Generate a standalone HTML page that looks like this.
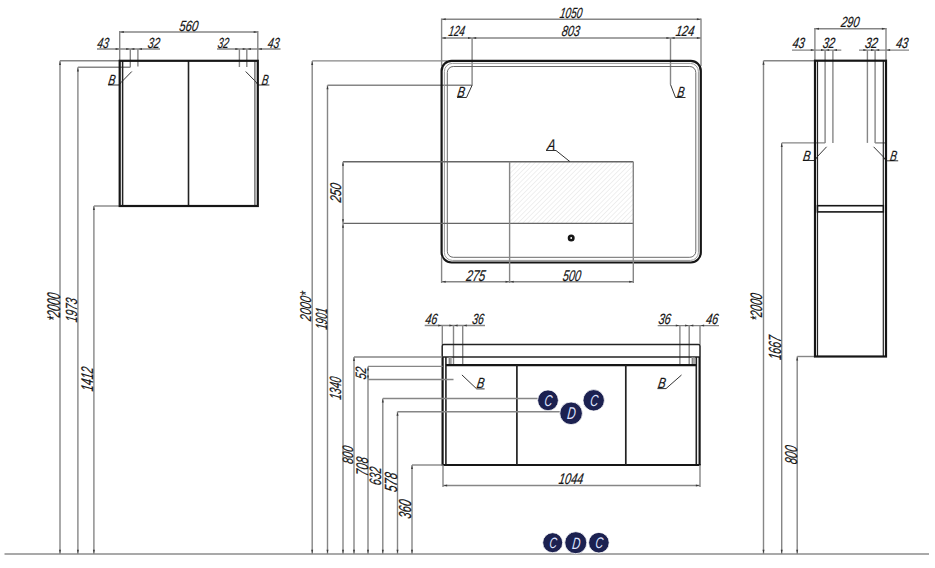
<!DOCTYPE html>
<html><head><meta charset="utf-8"><style>
html,body{margin:0;padding:0;background:#fff;width:935px;height:568px;overflow:hidden}
svg{display:block}
text{font-family:"Liberation Sans",sans-serif;font-style:italic;stroke:#151515;stroke-width:0.2px}
</style></head><body>
<svg width="935" height="568" viewBox="0 0 935 568">
<line x1="4.5" y1="554" x2="929" y2="554" stroke="#8c8c8c" stroke-width="1.6"/>
<line x1="119.7" y1="32" x2="257.8" y2="32" stroke="#868686" stroke-width="1.4"/>
<line x1="119.7" y1="31" x2="119.7" y2="60.8" stroke="#868686" stroke-width="1.4"/>
<line x1="257.8" y1="31" x2="257.8" y2="60.8" stroke="#868686" stroke-width="1.4"/>
<text transform="translate(178.7,30.5) skewX(-9)" x="0" y="0" font-size="14.71" textLength="19.0" lengthAdjust="spacingAndGlyphs" fill="#151515">560</text>
<line x1="97" y1="49" x2="160" y2="49" stroke="#868686" stroke-width="1.4"/>
<line x1="217" y1="49" x2="280.5" y2="49" stroke="#868686" stroke-width="1.4"/>
<text transform="translate(96.7,47.5) skewX(-9)" x="0" y="0" font-size="14.71" textLength="11.5" lengthAdjust="spacingAndGlyphs" fill="#151515">43</text>
<text transform="translate(147.2,47.5) skewX(-9)" x="0" y="0" font-size="14.71" textLength="12.0" lengthAdjust="spacingAndGlyphs" fill="#151515">32</text>
<text transform="translate(217.2,47.5) skewX(-9)" x="0" y="0" font-size="14.71" textLength="11.0" lengthAdjust="spacingAndGlyphs" fill="#151515">32</text>
<text transform="translate(267.2,47.5) skewX(-9)" x="0" y="0" font-size="14.71" textLength="11.5" lengthAdjust="spacingAndGlyphs" fill="#151515">43</text>
<line x1="130.3" y1="49" x2="130.3" y2="67.3" stroke="#868686" stroke-width="1.4"/>
<line x1="137.9" y1="49" x2="137.9" y2="66.6" stroke="#868686" stroke-width="1.4"/>
<line x1="239.4" y1="49" x2="239.4" y2="67" stroke="#868686" stroke-width="1.4"/>
<line x1="246.8" y1="49" x2="246.8" y2="67" stroke="#868686" stroke-width="1.4"/>
<line x1="60" y1="60.8" x2="119.7" y2="60.8" stroke="#868686" stroke-width="1.4"/>
<line x1="77.9" y1="67.3" x2="130.3" y2="67.3" stroke="#868686" stroke-width="1.4"/>
<line x1="93.9" y1="206" x2="119.7" y2="206" stroke="#868686" stroke-width="1.4"/>
<line x1="60" y1="60.8" x2="60" y2="554" stroke="#868686" stroke-width="1.4"/>
<line x1="77.9" y1="67.3" x2="77.9" y2="554" stroke="#868686" stroke-width="1.4"/>
<line x1="93.9" y1="206" x2="93.9" y2="554" stroke="#868686" stroke-width="1.4"/>
<text transform="translate(60,321.8) rotate(-90) skewX(-9)" x="0" y="0" font-size="18.38" textLength="28.0" lengthAdjust="spacingAndGlyphs" fill="#151515">*2000</text>
<text transform="translate(76.5,322.8) rotate(-90) skewX(-9)" x="0" y="0" font-size="16.18" textLength="24.0" lengthAdjust="spacingAndGlyphs" fill="#151515">1973</text>
<text transform="translate(93,391.8) rotate(-90) skewX(-9)" x="0" y="0" font-size="16.91" textLength="24.0" lengthAdjust="spacingAndGlyphs" fill="#151515">1412</text>
<polyline points="131.8,71.5 121,82.5 119,85 108,85" fill="none" stroke="#333" stroke-width="1.0"/>
<text transform="translate(107.7,85) skewX(-9)" x="0" y="0" font-size="14.71" textLength="7.0" lengthAdjust="spacingAndGlyphs" fill="#151515">B</text>
<polyline points="245.7,71.5 256,82 258,85 269.4,85" fill="none" stroke="#333" stroke-width="1.0"/>
<text transform="translate(261.2,85) skewX(-9)" x="0" y="0" font-size="14.71" textLength="6.5" lengthAdjust="spacingAndGlyphs" fill="#151515">B</text>
<line x1="122.6" y1="60.8" x2="122.6" y2="206" stroke="#222" stroke-width="1.5"/>
<line x1="254.9" y1="60.8" x2="254.9" y2="206" stroke="#555" stroke-width="1.2"/>
<line x1="188.5" y1="60.8" x2="188.5" y2="206" stroke="#222" stroke-width="1.6"/>
<rect x="119.7" y="60.8" width="138.1" height="145.2" fill="none" stroke="#161616" stroke-width="2.2"/>
<line x1="441.6" y1="19.2" x2="701" y2="19.2" stroke="#868686" stroke-width="1.4"/>
<line x1="441.6" y1="18.5" x2="441.6" y2="66" stroke="#868686" stroke-width="1.4"/>
<line x1="701" y1="18.5" x2="701" y2="66" stroke="#868686" stroke-width="1.4"/>
<text transform="translate(559.2,17.5) skewX(-9)" x="0" y="0" font-size="14.71" textLength="22.5" lengthAdjust="spacingAndGlyphs" fill="#151515">1050</text>
<line x1="441.6" y1="38" x2="701" y2="38" stroke="#868686" stroke-width="1.4"/>
<text transform="translate(448.0,36) skewX(-9)" x="0" y="0" font-size="14.71" textLength="16.2" lengthAdjust="spacingAndGlyphs" fill="#151515">124</text>
<text transform="translate(561.2,36) skewX(-9)" x="0" y="0" font-size="14.71" textLength="18.0" lengthAdjust="spacingAndGlyphs" fill="#151515">803</text>
<text transform="translate(675.2,36) skewX(-9)" x="0" y="0" font-size="14.71" textLength="18.5" lengthAdjust="spacingAndGlyphs" fill="#151515">124</text>
<line x1="472.1" y1="38" x2="472.1" y2="85.2" stroke="#868686" stroke-width="1.4"/>
<line x1="670.5" y1="38" x2="670.5" y2="84.5" stroke="#868686" stroke-width="1.4"/>
<line x1="312.2" y1="60.9" x2="447" y2="60.9" stroke="#868686" stroke-width="1.4"/>
<line x1="327.5" y1="85.2" x2="472.1" y2="85.2" stroke="#868686" stroke-width="1.4"/>
<line x1="312.2" y1="60.9" x2="312.2" y2="554" stroke="#868686" stroke-width="1.4"/>
<line x1="327.5" y1="85.2" x2="327.5" y2="554" stroke="#868686" stroke-width="1.4"/>
<text transform="translate(310.5,321.5) rotate(-90) skewX(-9)" x="0" y="0" font-size="15.59" textLength="29.0" lengthAdjust="spacingAndGlyphs" fill="#151515">2000*</text>
<text transform="translate(327,330.1) rotate(-90) skewX(-9)" x="0" y="0" font-size="16.18" textLength="21.6" lengthAdjust="spacingAndGlyphs" fill="#151515">1901</text>
<polyline points="472.1,85.2 466.5,97.5 457,97.5" fill="none" stroke="#333" stroke-width="1.0"/>
<text transform="translate(456.7,97) skewX(-9)" x="0" y="0" font-size="14.71" textLength="7.5" lengthAdjust="spacingAndGlyphs" fill="#151515">B</text>
<polyline points="670.5,84.5 675.5,97.5 685.5,97.5" fill="none" stroke="#333" stroke-width="1.0"/>
<text transform="translate(676.7,97) skewX(-9)" x="0" y="0" font-size="14.71" textLength="7.0" lengthAdjust="spacingAndGlyphs" fill="#151515">B</text>
<rect x="441.6" y="60.9" width="259.2" height="201.6" rx="10" ry="10" fill="none" stroke="#161616" stroke-width="2.2"/>
<rect x="444.4" y="63.4" width="254" height="197" rx="8" ry="8" fill="none" stroke="#9a9a9a" stroke-width="1"/>
<rect x="447.3" y="66.5" width="248.5" height="190.8" rx="6" ry="6" fill="none" stroke="#6a6a6a" stroke-width="1"/>
<defs><pattern id="h" patternUnits="userSpaceOnUse" width="3.4" height="3.4" patternTransform="rotate(45)"><line x1="0" y1="0" x2="0" y2="3.4" stroke="#e0e0e0" stroke-width="1"/></pattern></defs>
<rect x="509.6" y="161.7" width="123.7" height="61.7" fill="url(#h)" stroke="none"/>
<line x1="343" y1="161.7" x2="633.3" y2="161.7" stroke="#666" stroke-width="1.4"/>
<line x1="343" y1="223.4" x2="633.3" y2="223.4" stroke="#666" stroke-width="1.4"/>
<line x1="509.6" y1="161.7" x2="509.6" y2="283" stroke="#868686" stroke-width="1.4"/>
<line x1="633.3" y1="161.7" x2="633.3" y2="283" stroke="#868686" stroke-width="1.4"/>
<line x1="441.6" y1="257" x2="441.6" y2="283" stroke="#868686" stroke-width="1.4"/>
<line x1="343" y1="161.7" x2="343" y2="554" stroke="#868686" stroke-width="1.4"/>
<text transform="translate(341.2,202.8) rotate(-90) skewX(-9)" x="0" y="0" font-size="15.44" textLength="19.0" lengthAdjust="spacingAndGlyphs" fill="#151515">250</text>
<line x1="441.3" y1="281.8" x2="633.5" y2="281.8" stroke="#868686" stroke-width="1.4"/>
<text transform="translate(465.7,280.6) skewX(-9)" x="0" y="0" font-size="15.59" textLength="19.0" lengthAdjust="spacingAndGlyphs" fill="#151515">275</text>
<text transform="translate(562.2,280.6) skewX(-9)" x="0" y="0" font-size="15.59" textLength="18.0" lengthAdjust="spacingAndGlyphs" fill="#151515">500</text>
<polyline points="546,150.5 556,150.5 570,161.7" fill="none" stroke="#333" stroke-width="1.0"/>
<text transform="translate(546.7,150) skewX(-9)" x="0" y="0" font-size="15.44" textLength="8.0" lengthAdjust="spacingAndGlyphs" fill="#151515">A</text>
<circle cx="571.2" cy="238" r="2.2" fill="#fff" stroke="#161616" stroke-width="2.6"/>
<line x1="424.7" y1="325.5" x2="485" y2="325.5" stroke="#868686" stroke-width="1.4"/>
<text transform="translate(424.7,323.7) skewX(-9)" x="0" y="0" font-size="14.85" textLength="12.0" lengthAdjust="spacingAndGlyphs" fill="#151515">46</text>
<text transform="translate(471.7,323.7) skewX(-9)" x="0" y="0" font-size="14.85" textLength="11.5" lengthAdjust="spacingAndGlyphs" fill="#151515">36</text>
<line x1="442.3" y1="325.5" x2="442.3" y2="344.5" stroke="#868686" stroke-width="1.4"/>
<line x1="453.5" y1="325.5" x2="453.5" y2="365" stroke="#868686" stroke-width="1.4"/>
<line x1="462.7" y1="325.5" x2="462.7" y2="365" stroke="#868686" stroke-width="1.4"/>
<line x1="657.7" y1="325.6" x2="719" y2="325.6" stroke="#868686" stroke-width="1.4"/>
<text transform="translate(657.9,323.7) skewX(-9)" x="0" y="0" font-size="14.85" textLength="12.3" lengthAdjust="spacingAndGlyphs" fill="#151515">36</text>
<text transform="translate(705.5,323.7) skewX(-9)" x="0" y="0" font-size="14.85" textLength="12.2" lengthAdjust="spacingAndGlyphs" fill="#151515">46</text>
<line x1="679.9" y1="325.6" x2="679.9" y2="365" stroke="#868686" stroke-width="1.4"/>
<line x1="689.2" y1="325.6" x2="689.2" y2="365" stroke="#868686" stroke-width="1.4"/>
<line x1="700" y1="325.6" x2="700" y2="344.5" stroke="#868686" stroke-width="1.4"/>
<path d="M442.2,357 L442.2,346 Q442.2,344.5 443.7,344.5 L698.5,344.5 Q700,344.5 700,346 L700,357" fill="none" stroke="#222" stroke-width="1.5"/>
<line x1="442.2" y1="357" x2="700" y2="357" stroke="#222" stroke-width="1.5"/>
<line x1="449.3" y1="357" x2="449.3" y2="365" stroke="#888" stroke-width="1.4"/>
<line x1="450.9" y1="357" x2="450.9" y2="365" stroke="#888" stroke-width="1.4"/>
<line x1="692.3" y1="357" x2="692.3" y2="365" stroke="#888" stroke-width="1.4"/>
<line x1="694" y1="357" x2="694" y2="365" stroke="#888" stroke-width="1.4"/>
<line x1="442.6" y1="357" x2="442.6" y2="465" stroke="#161616" stroke-width="2.2"/>
<line x1="445.9" y1="357" x2="445.9" y2="465" stroke="#222" stroke-width="1.6"/>
<line x1="699.6" y1="357" x2="699.6" y2="465" stroke="#161616" stroke-width="2.2"/>
<line x1="696.3" y1="357" x2="696.3" y2="465" stroke="#222" stroke-width="1.6"/>
<line x1="445.9" y1="365.1" x2="696.3" y2="365.1" stroke="#161616" stroke-width="2.2"/>
<line x1="441.6" y1="465" x2="700.6" y2="465" stroke="#161616" stroke-width="2.2"/>
<line x1="516.9" y1="365" x2="516.9" y2="465" stroke="#222" stroke-width="1.7"/>
<line x1="625.8" y1="365" x2="625.8" y2="465" stroke="#222" stroke-width="1.7"/>
<line x1="443" y1="465" x2="443" y2="487" stroke="#868686" stroke-width="1.4"/>
<line x1="700" y1="465" x2="700" y2="487" stroke="#868686" stroke-width="1.4"/>
<line x1="443" y1="485.5" x2="700" y2="485.5" stroke="#868686" stroke-width="1.4"/>
<text transform="translate(558.2,484) skewX(-9)" x="0" y="0" font-size="15.44" textLength="24.5" lengthAdjust="spacingAndGlyphs" fill="#151515">1044</text>
<line x1="354" y1="357" x2="442.2" y2="357" stroke="#868686" stroke-width="1.4"/>
<line x1="354" y1="357" x2="354" y2="554" stroke="#868686" stroke-width="1.4"/>
<line x1="368" y1="366.4" x2="442.6" y2="366.4" stroke="#868686" stroke-width="1.4"/>
<line x1="368" y1="379.5" x2="453.5" y2="379.5" stroke="#868686" stroke-width="1.4"/>
<line x1="368" y1="366.4" x2="368" y2="554" stroke="#868686" stroke-width="1.4"/>
<line x1="382.8" y1="398.5" x2="540" y2="398.5" stroke="#868686" stroke-width="1.4"/>
<line x1="382.8" y1="398.5" x2="382.8" y2="554" stroke="#868686" stroke-width="1.4"/>
<line x1="397.5" y1="411.7" x2="562" y2="411.7" stroke="#868686" stroke-width="1.4"/>
<line x1="397.5" y1="411.7" x2="397.5" y2="554" stroke="#868686" stroke-width="1.4"/>
<line x1="412" y1="465" x2="442.6" y2="465" stroke="#868686" stroke-width="1.4"/>
<line x1="412" y1="465" x2="412" y2="554" stroke="#868686" stroke-width="1.4"/>
<text transform="translate(341.1,400.0) rotate(-90) skewX(-9)" x="0" y="0" font-size="16.18" textLength="22.5" lengthAdjust="spacingAndGlyphs" fill="#151515">1340</text>
<text transform="translate(353,464.4) rotate(-90) skewX(-9)" x="0" y="0" font-size="15.00" textLength="18.0" lengthAdjust="spacingAndGlyphs" fill="#151515">800</text>
<text transform="translate(366,379.8) rotate(-90) skewX(-9)" x="0" y="0" font-size="15.00" textLength="12.0" lengthAdjust="spacingAndGlyphs" fill="#151515">52</text>
<text transform="translate(367.5,476.4) rotate(-90) skewX(-9)" x="0" y="0" font-size="16.91" textLength="18.6" lengthAdjust="spacingAndGlyphs" fill="#151515">708</text>
<text transform="translate(381.2,485.8) rotate(-90) skewX(-9)" x="0" y="0" font-size="16.47" textLength="18.0" lengthAdjust="spacingAndGlyphs" fill="#151515">632</text>
<text transform="translate(396.5,492.6) rotate(-90) skewX(-9)" x="0" y="0" font-size="17.65" textLength="19.1" lengthAdjust="spacingAndGlyphs" fill="#151515">578</text>
<text transform="translate(410.8,519.2) rotate(-90) skewX(-9)" x="0" y="0" font-size="17.35" textLength="18.7" lengthAdjust="spacingAndGlyphs" fill="#151515">360</text>
<polyline points="461.9,374.9 476.7,388.9 484.6,388.9" fill="none" stroke="#333" stroke-width="1.0"/>
<text transform="translate(476.2,388) skewX(-9)" x="0" y="0" font-size="14.71" textLength="7.5" lengthAdjust="spacingAndGlyphs" fill="#151515">B</text>
<polyline points="681.5,375 666,388.6 657.4,388.6" fill="none" stroke="#333" stroke-width="1.0"/>
<text transform="translate(657.6,388) skewX(-9)" x="0" y="0" font-size="14.71" textLength="7.6" lengthAdjust="spacingAndGlyphs" fill="#151515">B</text>
<circle cx="548" cy="400.3" r="10.4" fill="#1c2150" stroke="#fff" stroke-width="0.8"/>
<text transform="translate(548.0,405.8) skewX(-6)" x="0" y="0" text-anchor="middle" font-size="15.6" fill="#dfe3ff" style="stroke:none" textLength="7.8" lengthAdjust="spacingAndGlyphs">C</text>
<circle cx="593.7" cy="400.3" r="10.7" fill="#1c2150" stroke="#fff" stroke-width="0.8"/>
<text transform="translate(593.7,406.0) skewX(-6)" x="0" y="0" text-anchor="middle" font-size="16.0" fill="#dfe3ff" style="stroke:none" textLength="8.0" lengthAdjust="spacingAndGlyphs">C</text>
<circle cx="571.1" cy="413.3" r="11.3" fill="#1c2150" stroke="#fff" stroke-width="0.8"/>
<text transform="translate(571.1,419.3) skewX(-6)" x="0" y="0" text-anchor="middle" font-size="17.0" fill="#dfe3ff" style="stroke:none" textLength="8.5" lengthAdjust="spacingAndGlyphs">D</text>
<line x1="814.3" y1="28.7" x2="886.4" y2="28.7" stroke="#868686" stroke-width="1.4"/>
<line x1="814.9" y1="28" x2="814.9" y2="60.7" stroke="#868686" stroke-width="1.4"/>
<line x1="886" y1="28" x2="886" y2="60.7" stroke="#868686" stroke-width="1.4"/>
<text transform="translate(840.5,27) skewX(-9)" x="0" y="0" font-size="14.71" textLength="18.3" lengthAdjust="spacingAndGlyphs" fill="#151515">290</text>
<line x1="792" y1="50.1" x2="841.3" y2="50.1" stroke="#868686" stroke-width="1.4"/>
<line x1="859" y1="50.1" x2="909" y2="50.1" stroke="#868686" stroke-width="1.4"/>
<text transform="translate(791.9,48.3) skewX(-9)" x="0" y="0" font-size="14.85" textLength="12.0" lengthAdjust="spacingAndGlyphs" fill="#151515">43</text>
<text transform="translate(822.2,48.3) skewX(-9)" x="0" y="0" font-size="14.85" textLength="12.0" lengthAdjust="spacingAndGlyphs" fill="#151515">32</text>
<text transform="translate(864.5,48.3) skewX(-9)" x="0" y="0" font-size="14.85" textLength="12.7" lengthAdjust="spacingAndGlyphs" fill="#151515">32</text>
<text transform="translate(895.5,48.3) skewX(-9)" x="0" y="0" font-size="14.85" textLength="12.0" lengthAdjust="spacingAndGlyphs" fill="#151515">43</text>
<line x1="825.1" y1="50.1" x2="825.1" y2="142.9" stroke="#868686" stroke-width="1.4"/>
<line x1="832.9" y1="50.1" x2="832.9" y2="142.9" stroke="#868686" stroke-width="1.4"/>
<line x1="867.4" y1="50.1" x2="867.4" y2="142.9" stroke="#868686" stroke-width="1.4"/>
<line x1="875.1" y1="50.1" x2="875.1" y2="142.9" stroke="#868686" stroke-width="1.4"/>
<line x1="781.7" y1="142.9" x2="825.1" y2="142.9" stroke="#868686" stroke-width="1.4"/>
<line x1="875.1" y1="142.9" x2="885" y2="142.9" stroke="#868686" stroke-width="1.4"/>
<line x1="763.5" y1="60.7" x2="815" y2="60.7" stroke="#868686" stroke-width="1.4"/>
<line x1="763.5" y1="60.7" x2="763.5" y2="554" stroke="#868686" stroke-width="1.4"/>
<line x1="781.7" y1="142.9" x2="781.7" y2="554" stroke="#868686" stroke-width="1.4"/>
<line x1="797.2" y1="356.5" x2="815" y2="356.5" stroke="#868686" stroke-width="1.4"/>
<line x1="797.2" y1="356.5" x2="797.2" y2="554" stroke="#868686" stroke-width="1.4"/>
<text transform="translate(762.3,321.6) rotate(-90) skewX(-9)" x="0" y="0" font-size="16.62" textLength="27.5" lengthAdjust="spacingAndGlyphs" fill="#151515">*2000</text>
<text transform="translate(781,360.3) rotate(-90) skewX(-9)" x="0" y="0" font-size="17.65" textLength="23.7" lengthAdjust="spacingAndGlyphs" fill="#151515">1667</text>
<text transform="translate(796.5,464.8) rotate(-90) skewX(-9)" x="0" y="0" font-size="17.21" textLength="18.5" lengthAdjust="spacingAndGlyphs" fill="#151515">800</text>
<polyline points="826.6,146.8 817,157 815,160.5 803,160.5" fill="none" stroke="#333" stroke-width="1.0"/>
<text transform="translate(802.4,160.5) skewX(-9)" x="0" y="0" font-size="14.71" textLength="7.3" lengthAdjust="spacingAndGlyphs" fill="#151515">B</text>
<polyline points="873.6,146.8 883.5,157 886,160.8 898.2,160.8" fill="none" stroke="#333" stroke-width="1.0"/>
<text transform="translate(889.5,160.5) skewX(-9)" x="0" y="0" font-size="14.71" textLength="6.7" lengthAdjust="spacingAndGlyphs" fill="#151515">B</text>
<line x1="817.5" y1="60.7" x2="817.5" y2="356.5" stroke="#222" stroke-width="1.2"/>
<line x1="883.3" y1="60.7" x2="883.3" y2="356.5" stroke="#222" stroke-width="1.2"/>
<rect x="817.5" y="205.7" width="65.8" height="6.2" fill="#fff" stroke="#161616" stroke-width="1.6"/>
<rect x="815" y="60.7" width="71" height="295.8" fill="none" stroke="#161616" stroke-width="2.2"/>
<circle cx="552.7" cy="542.7" r="10" fill="#1c2150" stroke="#fff" stroke-width="0.8"/>
<text transform="translate(552.7,548.0) skewX(-6)" x="0" y="0" text-anchor="middle" font-size="15.0" fill="#dfe3ff" style="stroke:none" textLength="7.5" lengthAdjust="spacingAndGlyphs">C</text>
<circle cx="575.8" cy="542.7" r="11" fill="#1c2150" stroke="#fff" stroke-width="0.8"/>
<text transform="translate(575.8,548.6) skewX(-6)" x="0" y="0" text-anchor="middle" font-size="16.5" fill="#dfe3ff" style="stroke:none" textLength="8.2" lengthAdjust="spacingAndGlyphs">D</text>
<circle cx="598.9" cy="542.7" r="10.3" fill="#1c2150" stroke="#fff" stroke-width="0.8"/>
<text transform="translate(598.9,548.2) skewX(-6)" x="0" y="0" text-anchor="middle" font-size="15.5" fill="#dfe3ff" style="stroke:none" textLength="7.7" lengthAdjust="spacingAndGlyphs">C</text>
<polygon points="60.0,61.4 59.0,64.9 61.0,64.9" fill="#3a3a3a"/>
<polygon points="60.0,553.2 59.0,549.7 61.0,549.7" fill="#3a3a3a"/>
<polygon points="77.9,67.9 76.9,71.4 78.9,71.4" fill="#3a3a3a"/>
<polygon points="77.9,553.2 76.9,549.7 78.9,549.7" fill="#3a3a3a"/>
<polygon points="93.9,206.6 92.9,210.1 94.9,210.1" fill="#3a3a3a"/>
<polygon points="93.9,553.2 92.9,549.7 94.9,549.7" fill="#3a3a3a"/>
<polygon points="312.2,61.5 311.2,65.0 313.2,65.0" fill="#3a3a3a"/>
<polygon points="312.2,553.2 311.2,549.7 313.2,549.7" fill="#3a3a3a"/>
<polygon points="327.5,85.8 326.5,89.3 328.5,89.3" fill="#3a3a3a"/>
<polygon points="327.5,553.2 326.5,549.7 328.5,549.7" fill="#3a3a3a"/>
<polygon points="343.0,162.3 342.0,165.8 344.0,165.8" fill="#3a3a3a"/>
<polygon points="343.0,553.2 342.0,549.7 344.0,549.7" fill="#3a3a3a"/>
<polygon points="354.0,357.6 353.0,361.1 355.0,361.1" fill="#3a3a3a"/>
<polygon points="354.0,553.2 353.0,549.7 355.0,549.7" fill="#3a3a3a"/>
<polygon points="368.0,367.0 367.0,370.5 369.0,370.5" fill="#3a3a3a"/>
<polygon points="368.0,553.2 367.0,549.7 369.0,549.7" fill="#3a3a3a"/>
<polygon points="382.8,399.1 381.8,402.6 383.8,402.6" fill="#3a3a3a"/>
<polygon points="382.8,553.2 381.8,549.7 383.8,549.7" fill="#3a3a3a"/>
<polygon points="397.5,412.3 396.5,415.8 398.5,415.8" fill="#3a3a3a"/>
<polygon points="397.5,553.2 396.5,549.7 398.5,549.7" fill="#3a3a3a"/>
<polygon points="412.0,465.6 411.0,469.1 413.0,469.1" fill="#3a3a3a"/>
<polygon points="412.0,553.2 411.0,549.7 413.0,549.7" fill="#3a3a3a"/>
<polygon points="763.5,61.3 762.5,64.8 764.5,64.8" fill="#3a3a3a"/>
<polygon points="763.5,553.2 762.5,549.7 764.5,549.7" fill="#3a3a3a"/>
<polygon points="781.7,143.5 780.7,147.0 782.7,147.0" fill="#3a3a3a"/>
<polygon points="781.7,553.2 780.7,549.7 782.7,549.7" fill="#3a3a3a"/>
<polygon points="797.2,357.1 796.2,360.6 798.2,360.6" fill="#3a3a3a"/>
<polygon points="797.2,553.2 796.2,549.7 798.2,549.7" fill="#3a3a3a"/>
<polygon points="343.0,222.8 342.0,219.3 344.0,219.3" fill="#3a3a3a"/>
<polygon points="343.0,224.2 342.0,227.7 344.0,227.7" fill="#3a3a3a"/>
<polygon points="368.0,379.0 367.0,375.5 369.0,375.5" fill="#3a3a3a"/>
<polygon points="120.3,32.0 123.8,31.0 123.8,33.0" fill="#3a3a3a"/>
<polygon points="257.2,32.0 253.7,31.0 253.7,33.0" fill="#3a3a3a"/>
<polygon points="442.2,19.2 445.7,18.2 445.7,20.2" fill="#3a3a3a"/>
<polygon points="700.4,19.2 696.9,18.2 696.9,20.2" fill="#3a3a3a"/>
<polygon points="442.2,281.8 445.7,280.8 445.7,282.8" fill="#3a3a3a"/>
<polygon points="632.7,281.8 629.2,280.8 629.2,282.8" fill="#3a3a3a"/>
<polygon points="443.6,485.5 447.1,484.5 447.1,486.5" fill="#3a3a3a"/>
<polygon points="699.4,485.5 695.9,484.5 695.9,486.5" fill="#3a3a3a"/>
<polygon points="815.5,28.7 819.0,27.7 819.0,29.7" fill="#3a3a3a"/>
<polygon points="885.4,28.7 881.9,27.7 881.9,29.7" fill="#3a3a3a"/>
<polygon points="509.0,281.8 505.5,280.8 505.5,282.8" fill="#3a3a3a"/>
<polygon points="510.2,281.8 513.7,280.8 513.7,282.8" fill="#3a3a3a"/>
<polygon points="119.1,49.0 115.6,48.0 115.6,50.0" fill="#3a3a3a"/>
<polygon points="130.9,49.0 134.4,48.0 134.4,50.0" fill="#3a3a3a"/>
<polygon points="129.7,49.0 126.2,48.0 126.2,50.0" fill="#3a3a3a"/>
<polygon points="138.5,49.0 142.0,48.0 142.0,50.0" fill="#3a3a3a"/>
<polygon points="238.8,49.0 235.3,48.0 235.3,50.0" fill="#3a3a3a"/>
<polygon points="247.4,49.0 250.9,48.0 250.9,50.0" fill="#3a3a3a"/>
<polygon points="246.2,49.0 242.7,48.0 242.7,50.0" fill="#3a3a3a"/>
<polygon points="258.4,49.0 261.9,48.0 261.9,50.0" fill="#3a3a3a"/>
<polygon points="814.3,50.1 810.8,49.1 810.8,51.1" fill="#3a3a3a"/>
<polygon points="825.7,50.1 829.2,49.1 829.2,51.1" fill="#3a3a3a"/>
<polygon points="824.5,50.1 821.0,49.1 821.0,51.1" fill="#3a3a3a"/>
<polygon points="833.5,50.1 837.0,49.1 837.0,51.1" fill="#3a3a3a"/>
<polygon points="866.8,50.1 863.3,49.1 863.3,51.1" fill="#3a3a3a"/>
<polygon points="875.7,50.1 879.2,49.1 879.2,51.1" fill="#3a3a3a"/>
<polygon points="874.5,50.1 871.0,49.1 871.0,51.1" fill="#3a3a3a"/>
<polygon points="886.6,50.1 890.1,49.1 890.1,51.1" fill="#3a3a3a"/>
<polygon points="441.7,325.5 438.2,324.5 438.2,326.5" fill="#3a3a3a"/>
<polygon points="454.1,325.5 457.6,324.5 457.6,326.5" fill="#3a3a3a"/>
<polygon points="452.9,325.5 449.4,324.5 449.4,326.5" fill="#3a3a3a"/>
<polygon points="463.3,325.5 466.8,324.5 466.8,326.5" fill="#3a3a3a"/>
<polygon points="679.3,325.6 675.8,324.6 675.8,326.6" fill="#3a3a3a"/>
<polygon points="689.8,325.6 693.3,324.6 693.3,326.6" fill="#3a3a3a"/>
<polygon points="688.6,325.6 685.1,324.6 685.1,326.6" fill="#3a3a3a"/>
<polygon points="700.6,325.6 704.1,324.6 704.1,326.6" fill="#3a3a3a"/>
<polygon points="442.2,38.0 445.7,37.0 445.7,39.0" fill="#3a3a3a"/>
<polygon points="471.5,38.0 468.0,37.0 468.0,39.0" fill="#3a3a3a"/>
<polygon points="472.7,38.0 476.2,37.0 476.2,39.0" fill="#3a3a3a"/>
<polygon points="669.9,38.0 666.4,37.0 666.4,39.0" fill="#3a3a3a"/>
<polygon points="671.1,38.0 674.6,37.0 674.6,39.0" fill="#3a3a3a"/>
<polygon points="700.4,38.0 696.9,37.0 696.9,39.0" fill="#3a3a3a"/>
</svg>
</body></html>
